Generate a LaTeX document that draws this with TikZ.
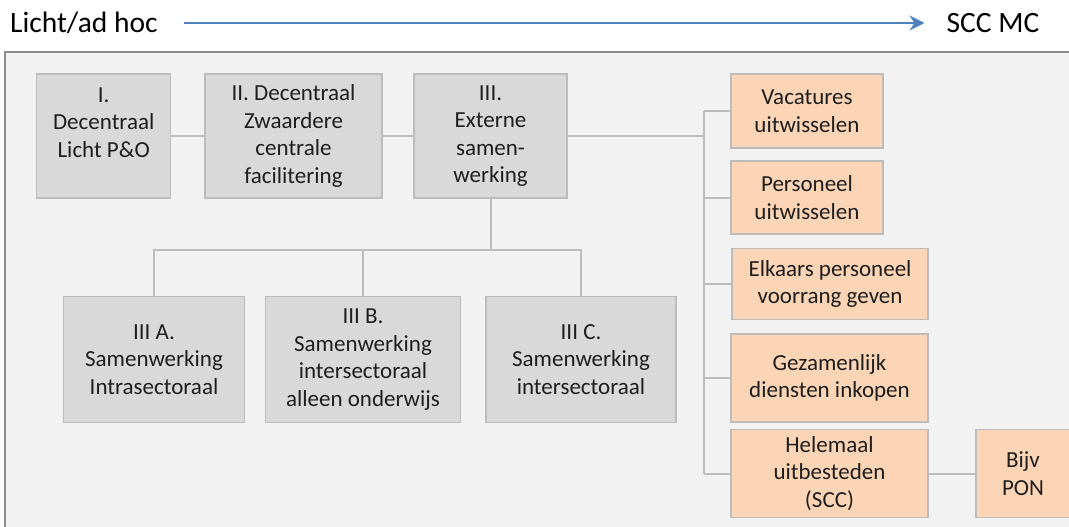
\documentclass[tikz,border=0pt]{standalone}
\usepackage{fontspec}
\setmainfont{Carlito}
\usetikzlibrary{arrows.meta,positioning}
\usepackage{xcolor}
\definecolor{paneel}{HTML}{F2F2F2}
\definecolor{randgrijs}{HTML}{8C8C8C}
\definecolor{lijngrijs}{HTML}{BCBCBC}
\definecolor{vakgrijs}{HTML}{D9D9D9}
\definecolor{vakoranje}{HTML}{FBD5B5}
\definecolor{pijlblauw}{HTML}{4F81BD}
\definecolor{tekst}{HTML}{1E1E1E}

\begin{document}
\begin{tikzpicture}[x=1pt,y=-1pt,
	vak/.style={draw=lijngrijs,line width=1.5pt,fill=vakgrijs,align=center,inner sep=0pt,text=tekst,font=\fontsize{23}{27.5}\selectfont},
	oranje/.style={vak,fill=vakoranje},
	lijn/.style={draw=lijngrijs,line width=2pt},
	kop/.style={inner sep=0pt,text height=24pt,text depth=4pt,font=\fontsize{29.5}{34}\selectfont}]
	\useasboundingbox (0,0) rectangle (1069,527);
	\draw[randgrijs,line width=2pt,fill=paneel] (5,52) rectangle (1085,540); % paneel
	% kop
	\node[kop,anchor=base west] (licht) at (10,33) {Licht/ad hoc};
	\node[kop,anchor=base west] (scc) at (946.5,33) {SCC MC};
	\draw[pijlblauw,line width=2.5pt,-{Stealth[length=15pt,width=15pt,inset=5pt]},shorten <=26pt,shorten >=22pt] (licht.east) -- (scc.west);
	% bovenste rij
	\node[vak,minimum width=134pt,minimum height=124pt] (I) at (103.7,136) {I.\\Decentraal\\Licht P\&O\\\phantom{I}};
	\node[vak,minimum width=177pt,minimum height=124pt] (II) at (293.5,136) {II. Decentraal\\Zwaardere\\centrale\\facilitering};
	\node[vak,minimum width=153pt,minimum height=124pt] (III) at (490.5,136) {III.\\Externe\\samen-\\werking};
	% varianten van III
	\node[vak,minimum width=181pt,minimum height=126pt] (IIIA) at (154,359.5) {III A.\\Samenwerking\\Intrasectoraal};
	\node[vak,minimum width=195pt,minimum height=126pt] (IIIB) at (363,359.5) {III B.\\Samenwerking\\intersectoraal\\alleen onderwijs};
	\node[vak,minimum width=190pt,minimum height=126pt] (IIIC) at (581,359.5) {III C.\\Samenwerking\\intersectoraal};
	% vormen van samenwerking
	\node[oranje,minimum width=152pt,minimum height=74pt] (vac) at (807,111) {Vacatures\\uitwisselen};
	\node[oranje,minimum width=152pt,minimum height=73pt] (pers) at (807,197.5) {Personeel\\uitwisselen};
	\node[oranje,minimum width=196pt,minimum height=71pt] (elk) at (830,284) {Elkaars personeel\\voorrang geven};
	\node[oranje,minimum width=197pt,minimum height=88pt] (gez) at (829.5,378) {Gezamenlijk\\diensten inkopen};
	\node[oranje,minimum width=197pt,minimum height=88pt] (hel) at (829.5,473.5) {Helemaal\\uitbesteden\\(SCC)};
	\node[oranje,minimum width=94pt,minimum height=88pt] (pon) at (1023,473.5) {Bijv\\PON};
	% verbindingen
	\draw[lijn] (I) -- (II);
	\draw[lijn] (II) -- (III);
	\coordinate (bus) at (490.5,250);
	\draw[lijn] (III) -- (bus);
	\draw[lijn] (IIIA.north) |- (bus) -| (IIIC.north);
	\draw[lijn] (IIIB.north) -- (IIIB.north |- bus);
	\coordinate (split) at (704,136);
	\draw[lijn] (III.east) -- (split);
	\draw[lijn] (split |- vac.west) -- (split |- hel.west);
	\foreach \n in {vac,pers,elk,gez,hel}
		\draw[lijn] (\n.west) -- (split |- \n.west);
	\draw[lijn] (hel) -- (pon);
\end{tikzpicture}
\end{document}
